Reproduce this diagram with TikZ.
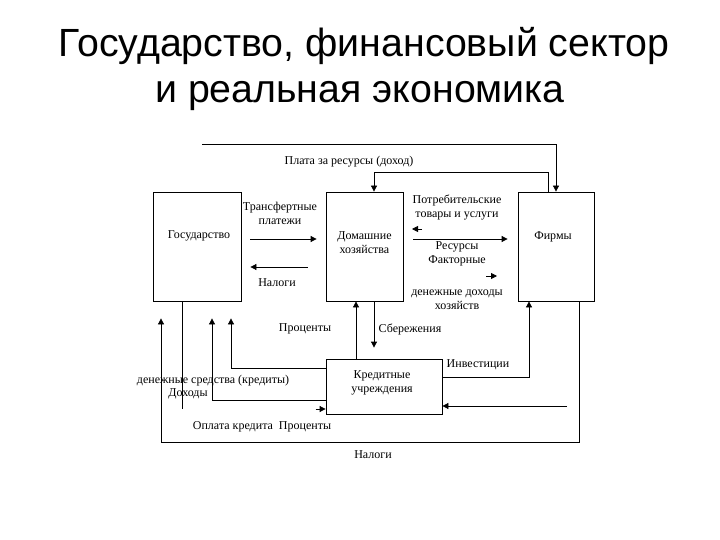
\documentclass[tikz,border=0pt]{standalone}
\usepackage{fontspec}
\setmainfont{Liberation Serif}
\newfontfamily\titlefont{Liberation Sans}
\usetikzlibrary{arrows.meta,calc}
\begin{document}
\begin{tikzpicture}[x=1pt,y=-1pt,
  box/.style={draw, line width=0.8pt, inner sep=0pt},
  arr/.style={draw, line width=0.8pt, -{Triangle[length=6pt,width=6pt]}},
  ln/.style={draw, line width=0.8pt},
  lbl/.style={font=\fontsize{12}{14}\selectfont, inner sep=0pt, align=center},
  ttl/.style={font=\titlefont\fontsize{39.3}{46}\selectfont, inner sep=0pt, anchor=base}]
\useasboundingbox (0,0) rectangle (720,540);

% title
\node[ttl] (t1) at (364,57) {Государство, финансовый сектор};
\node[ttl] (t2) at (360,103) {и реальная экономика};

% boxes
\node[box, minimum width=88pt, minimum height=109pt] (gos) at (197,246.5) {};
\node[box, minimum width=77pt, minimum height=109pt] (dom) at (364.5,246.5) {};
\node[box, minimum width=76pt, minimum height=109pt] (firm) at (556,246.5) {};
\node[box, minimum width=116pt, minimum height=55pt] (kred) at (384,386.5) {};

\node[lbl] (gosT) at (199,236) {Государство};
\node[lbl] (domT) at (364.5,242.5) {Домашние\\хозяйства};
\node[lbl] (firmT) at (553,237) {Фирмы};
\node[lbl] (kredT) at (382,383) {Кредитные\\учреждения};

% coordinates for free ends and bends
\coordinate (topL) at (202,144);
\coordinate (s1) at (422,229);
\coordinate (s1e) at (412,229);
\coordinate (s2) at (486,276);
\coordinate (s2e) at (497,276);
\coordinate (c1) at (161,442);
\coordinate (f1) at (567,406);

% connectors
\draw[arr] (topL) -| (firm.north);
\draw[arr] ([xshift=-8pt]firm.north) -- ++(0,-19) -| ([xshift=9.5pt]dom.north);
\draw[arr] ([xshift=9pt,yshift=7.5pt]gos.east) -- ([xshift=-9pt,yshift=7.5pt]dom.west);
\draw[arr] ([xshift=-18pt,yshift=-20.5pt]dom.west) -- ([xshift=9pt,yshift=-20.5pt]gos.east);
\draw[arr] (s1) -- (s1e);
\draw[arr] ([xshift=10pt,yshift=7.5pt]dom.east) -- ([xshift=-10pt,yshift=7.5pt]firm.west);
\draw[arr] (s2) -- (s2e);
\draw[ln] ([xshift=-15pt]gos.south) -- ++(0,108);
\draw[arr] ([xshift=-10pt,yshift=-22.5pt]kred.west) -- ([yshift=-22.5pt]kred.west);
\draw[arr, shorten >=17pt] ([xshift=23pt]firm.south) |- (c1) -- ([xshift=-36pt]gos.south);
\draw[arr, shorten >=17pt] ([yshift=-13.5pt]kred.west) -| ([xshift=15pt]gos.south);
\draw[arr, shorten >=17pt] ([yshift=18.5pt]kred.west) -| ([xshift=34pt]gos.south);
\draw[arr] ([xshift=-28pt]kred.north) -- ([xshift=-8.5pt]dom.south);
\draw[arr, shorten >=11pt] ([xshift=9.5pt]dom.south) -- ([xshift=-10pt]kred.north);
\draw[arr] ([yshift=9.5pt]kred.east) -| ([xshift=-27pt]firm.south);
\draw[arr] (f1) -- (kred.east |- f1);

% labels
\node[lbl] (l1) at (349,162) {Плата за ресурсы (доход)};
\node[lbl] (l2) at (280,213) {Трансфертные\\платежи};
\node[lbl] (l3) at (277,283) {Налоги};
\node[lbl] (l4) at (457,208) {Потребительские\\товары и услуги};
\node[lbl] (l5) at (457,247) {Ресурсы};
\node[lbl] (l6) at (457,261) {Факторные};
\node[lbl] (l7) at (457,299.5) {денежные доходы\\хозяйств};
\node[lbl] (l8) at (305,329) {Проценты};
\node[lbl] (l9) at (410,329) {Сбережения};
\node[lbl] (l10) at (478,365) {Инвестиции};
\node[lbl] (l11) at (213,381) {денежные средства (кредиты)};
\node[lbl] (l12) at (188,394) {Доходы};
\node[lbl] (l13) at (262,427) {Оплата кредита\ \ Проценты};
\node[lbl] (l14) at (373,455) {Налоги};
\end{tikzpicture}
\end{document}
